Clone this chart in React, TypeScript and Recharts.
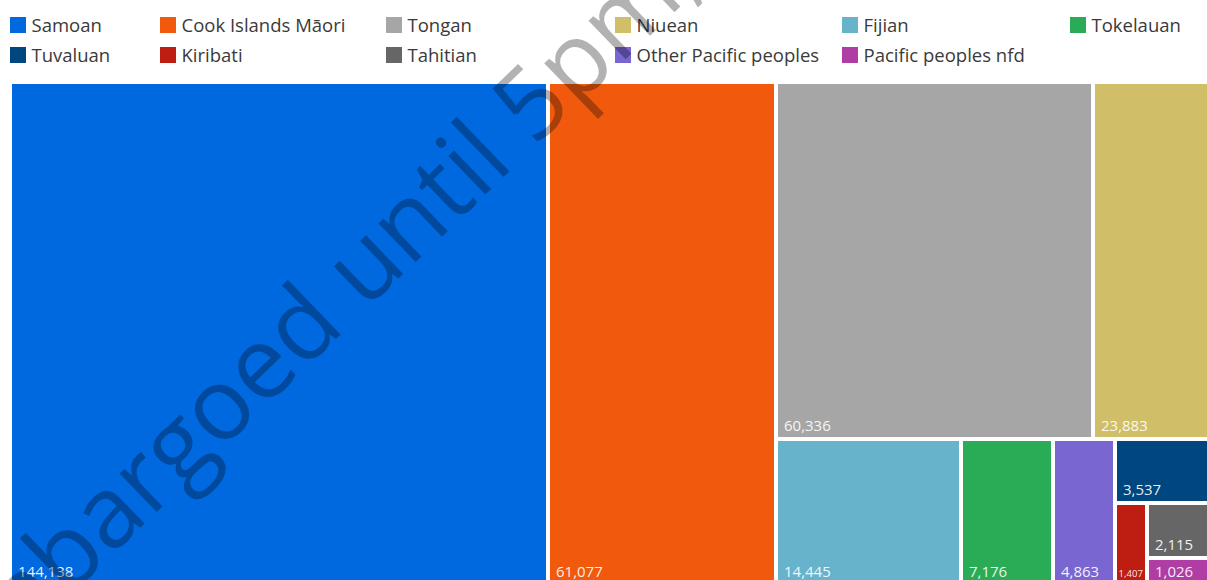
import React from 'react';
import { Treemap } from 'recharts';

// ---- data ----
const categories = [
  'Samoan',
  'Cook Islands Māori',
  'Tongan',
  'Niuean',
  'Fijian',
  'Tokelauan',
  'Tuvaluan',
  'Kiribati',
  'Tahitian',
  'Other Pacific peoples',
  'Pacific peoples nfd',
];
const populations = [144138, 61077, 60336, 23883, 14445, 7176, 3537, 1407, 2115, 4863, 1026];
const colors = [
  '#0069E0',
  '#F15A0D',
  '#A6A6A6',
  '#D0BE68',
  '#67B3CB',
  '#2AAB55',
  '#00467F',
  '#BE1D11',
  '#666666',
  '#7966D0',
  '#B03DA3',
];
// grouping of tiles (structure only, no coordinates)
const tileGroups: any[] = [
  'Samoan',
  'Cook Islands Māori',
  [
    ['Tongan', 'Niuean'],
    ['Fijian', 'Tokelauan', 'Other Pacific peoples', ['Tuvaluan', ['Kiribati', ['Tahitian', 'Pacific peoples nfd']]]],
  ],
];
const watermarkText = 'Embargoed until 5pm,';

// ---- build tree ----
const buildNode = (g: any): any => {
  if (typeof g === 'string') {
    const i = categories.indexOf(g);
    return { name: g, value: populations[i], fill: colors[i] };
  }
  return { name: '', children: g.map(buildNode) };
};
const treeData = tileGroups.map(buildNode);

const FONT = '"Open Sans", "Noto Sans", sans-serif';

const renderCell = (props: any) => {
  const { x, y, width, height, name, value, children } = props;
  if (children && children.length) return <g />;
  const i = categories.indexOf(name);
  if (i < 0) return <g />;
  const label = Number(value).toLocaleString('en-US');
  const fitSize = (width - 6) / (label.length * 0.54);
  const fontSize = Math.min(15, fitSize);
  const pad = fitSize < 15 ? 3.5 : 8;
  return (
    <g>
      <rect x={x} y={y} width={width} height={height} fill={colors[i]} stroke="#ffffff" strokeWidth={4} />
      <text
        x={x + pad}
        y={y + height - 8}
        fill="#ffffff"
        fillOpacity={0.92}
        fontSize={fontSize}
        fontFamily={FONT}
      >
        {label}
      </text>
    </g>
  );
};

const legendCols = [10, 160, 386, 615, 842, 1070];
const legendRows = [25, 55];

export default function App() {
  return (
    <div
      style={{
        position: 'fixed',
        left: 0,
        top: 0,
        width: 1207,
        height: 580,
        overflow: 'hidden',
        background: '#ffffff',
        fontFamily: FONT,
      }}
    >
      {categories.map((c, i) => {
        const col = i % 6;
        const row = Math.floor(i / 6);
        return (
          <div
            key={c}
            style={{
              position: 'absolute',
              left: legendCols[col],
              top: legendRows[row] - 12,
              height: 24,
              display: 'flex',
              alignItems: 'center',
              whiteSpace: 'nowrap',
            }}
          >
            <div style={{ width: 16, height: 16, background: colors[i], marginRight: 5.5 }} />
            <span style={{ fontSize: 18.5, color: '#3a3a3a', lineHeight: '24px' }}>{c}</span>
          </div>
        );
      })}
      <div style={{ position: 'absolute', left: 10, top: 82 }}>
        <Treemap
          width={1209}
          height={503}
          data={treeData}
          dataKey="value"
          nameKey="name"
          aspectRatio={1}
          isAnimationActive={false}
          content={renderCell as any}
        />
      </div>
      <svg
        width={1207}
        height={580}
        style={{ position: 'absolute', left: 0, top: 0, pointerEvents: 'none' }}
      >
        <text
          transform="translate(-40,702) rotate(-44)"
          fontSize={100}
          fontFamily={FONT}
          fill="#000000"
          fillOpacity={0.3}
        >
          {watermarkText}
        </text>
      </svg>
    </div>
  );
}
